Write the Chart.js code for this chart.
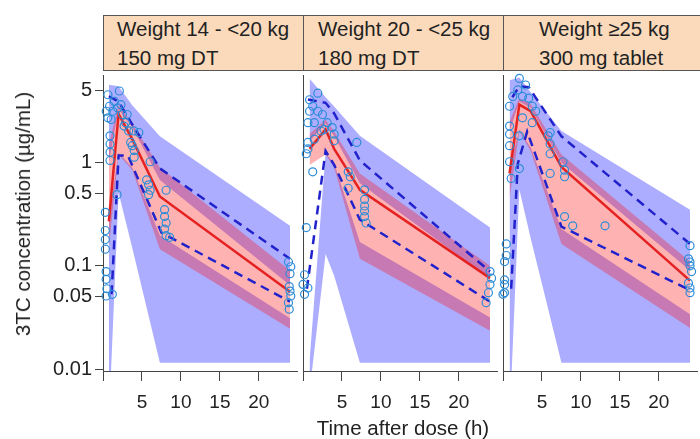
<!DOCTYPE html>
<html><head><meta charset="utf-8">
<script src="https://cdn.jsdelivr.net/npm/chart.js@4.4.1/dist/chart.umd.min.js"></script>
<style>
html,body{margin:0;padding:0;background:#fff;}
body{width:700px;height:439px;overflow:hidden;position:relative;font-family:'Liberation Sans',Arial,Helvetica,sans-serif;color:#222;}
canvas{position:absolute;top:70px;}
.strip{position:absolute;top:15px;height:56px;width:201px;box-sizing:border-box;border:1px solid #555;background:#FBDABB;}
.strip span{position:absolute;font-size:20.5px;line-height:20px;white-space:nowrap;}
.ttl{position:absolute;font-size:20.5px;line-height:20px;white-space:nowrap;}
</style></head>
<body>
<div class="strip" style="left:103px"><span style="left:13px;top:3px">Weight 14 - &lt;20 kg</span><span style="left:13px;top:32px">150 mg DT</span></div>
<div class="strip" style="left:303px"><span style="left:14px;top:3px">Weight 20 - &lt;25 kg</span><span style="left:14px;top:32px">180 mg DT</span></div>
<div class="strip" style="left:503px"><span style="left:35px;top:3px">Weight ≥25 kg</span><span style="left:35px;top:32px">300 mg tablet</span></div>
<canvas id="c1" width="303" height="369" style="left:0px"></canvas>
<canvas id="c2" width="210" height="369" style="left:293px"></canvas>
<canvas id="c3" width="210" height="369" style="left:493px"></canvas>
<div class="ttl" style="left:403px;top:418px;transform:translateX(-50%)">Time after dose (h)</div>
<div class="ttl" style="left:23px;top:214px;transform:translate(-50%,-50%) rotate(-90deg)">3TC concentration (µg/mL)</div>
<script>
// ---- axis ticks ----
const xTickVals = [0, 5, 10, 15, 20];
const xTickLabels = ['', '5', '10', '15', '20'];
const yTickVals = [0.01, 0.05, 0.1, 0.5, 1, 5];
const yTickLabels = ['0.01', '0.05', '0.1', '0.5', '1', '5'];

// ---- panel 1: Weight 14 - <20 kg ----
const T1 = [0.75, 2, 3.75, 7.3, 24];
const median1 = [0.27, 2.97, 1.69, 0.47, 0.056];
const redHi1 = [1.5, 3.6, 2.4, 0.9, 0.09];
const redLo1 = [0.15, 1.2, 0.85, 0.145, 0.0245];
const upHi1 = [5.7, 5.5, 3.6, 1.8, 0.245];
const upLo1 = [1.0, 3.3, 2.2, 0.68, 0.065];
const lowHi1 = [0.3, 1.25, 0.9, 0.197, 0.031];
const lowLo1 = [0.003, 0.51, 0.15, 0.0115, 0.0115];
const obsHiT1 = [0.75, 2, 3.75, 7.3, 24];
const obsHi1 = [4.4, 3.9, 2.35, 0.88, 0.117];
const obsLoT1 = [1.1, 2.0, 3.2, 7.5, 24];
const obsLo1 = [0.053, 1.17, 1.17, 0.21, 0.045];
const ptT1 = [0.3,0.3,0.3,0.3,0.4,0.4,0.5,0.4,1.2,1.8, 0.9,0.9,0.9,0.9, 0.63,2.1,1.46,0.84,1.25,1.9,2.5,3.1,2.7,3.3,3.96,3.75,4.0,4.0,4.6,3.55,0.42,0.63,1.05,2.3,2.9, 6.05,5.6,5.85,6.05,5.85,8.1,7.9,7.9,8.1,7.9,8.1,8.55, 23.8,24.1,24.0,23.9,24.0,24.1,23.8,23.9];
const ptV1 = [0.33,0.22,0.18,0.145,0.088,0.074,0.06,0.051,0.053,0.49, 1.82,1.52,1.26,1.05, 4.55,4.95,3.92,3.52,3.15,3.39,2.93,2.93,2.26,2.03,2.03,1.46,1.31,1.13,1.96,1.57,3.15,2.72,2.62,3.65,2.44, 1.02,0.68,0.61,0.54,0.49,0.54,0.35,0.30,0.26,0.227,0.196,0.189, 0.109,0.098,0.084,0.063,0.057,0.051,0.044,0.038];

// ---- panel 2: Weight 20 - <25 kg ----
const T2 = [0.84, 2.9, 4.0, 7.3, 24];
const median2 = [1.36, 2.1, 1.36, 0.545, 0.076];
const redHi2 = [1.9, 2.6, 2.0, 0.786, 0.1];
const redLo2 = [0.95, 1.2, 0.9, 0.117, 0.0235];
const upHi2 = [6.5, 4.3, 3.5, 1.82, 0.235];
const upLo2 = [1.6, 2.4, 1.8, 0.63, 0.075];
const lowHi2 = [0.012, 1.25, 0.98, 0.17, 0.0316];
const lowLo2 = [0.006, 0.13, 0.08, 0.0115, 0.0115];
const obsHiT2 = [0.63, 2.9, 4.0, 7.3, 24];
const obsHi2 = [4.1, 3.8, 3.0, 1.05, 0.088];
const obsLoT2 = [0.5, 2.9, 4.0, 7.3, 24];
const obsLo2 = [0.06, 1.3, 0.95, 0.28, 0.045];
const ptT2 = [1.9,0.84,1.25,0.84,1.9,2.5,0.63,1.46,3.1,2.7,3.75,4.0,4.0,0.63,0.63,0.42,1.46,2.3,1.25, 6.9,5.8,6.05,5.8,7.9,7.9,7.9,7.9,7.9,8.1, 0.42,0.2,0.0,0.63,0.2, 24.0,24.2,24.0,23.8,23.5];
const ptV2 = [4.71,4.07,3.52,3.15,3.15,2.93,2.44,2.44,2.44,2.1,2.19,1.89,1.63,1.57,1.36,1.22,1.69,2.03,0.815, 1.57,0.815,0.73,0.565,0.545,0.44,0.38,0.34,0.30,0.26, 0.235,0.082,0.066,0.061,0.053, 0.088,0.076,0.066,0.055,0.044];

// ---- panel 3: Weight >=25 kg ----
const T3 = [0.84, 2.1, 3.55, 7.5, 24];
const median3 = [0.786, 3.65, 3.15, 0.91, 0.072];
const redHi3 = [2.5, 4.2, 3.7, 1.2, 0.11];
const redLo3 = [0.45, 2.0, 1.3, 0.163, 0.025];
const upHi3 = [6.3, 6.7, 4.8, 2.03, 0.35];
const upLo3 = [2.0, 3.9, 3.4, 1.0, 0.09];
const lowHi3 = [0.9, 2.1, 1.4, 0.227, 0.034];
const lowLo3 = [0.003, 0.55, 0.185, 0.0115, 0.0115];
const obsHiT3 = [1.2, 2.1, 3.3, 7.5, 24];
const obsHi3 = [4.3, 5.5, 5.4, 1.8, 0.163];
const obsLoT3 = [1.05, 1.9, 3.1, 7.5, 24];
const obsLo3 = [0.06, 0.98, 2.0, 0.24, 0.058];
const ptT3 = [2.1,2.9,1.9,2.5,3.3,1.25,0.84,3.75,4.2,3.75,0.84,0.84,2.5,6.05,5.8,6.05,2.1,0.84,0.84,2.1,1.05,6.05,6.05,7.7,7.9,7.9,7.9,8.95,13.1, 0.42,0.42,0.2,0.2,0.2,0.2,0.0, 24.0,24.0,23.8,24.0,24.2,23.8,24.0,24.0];
const ptV3 = [6.55,5.66,5.07,4.38,4.22,4.38,3.52,3.52,3.15,2.44,2.26,1.89,2.72,1.96,1.82,1.52,1.82,1.46,1.02,0.877,0.704,1.22,0.786,1.02,0.845,0.73,0.30,0.244,0.244, 0.163,0.126,0.11,0.073,0.066,0.055,0.053, 0.157,0.109,0.117,0.1,0.088,0.068,0.061,0.055];

Chart.defaults.font.family = "'Liberation Sans', Arial, sans-serif";
Chart.defaults.color = '#222';

const Y_MIN = 0.00957, Y_MAX = 7.04;
const BLUE_BAND = 'rgba(0,0,255,0.32)';
const RED_BAND = 'rgba(255,0,0,0.30)';

function xy(xs, ys) { return xs.map((x, i) => ({x: x, y: ys[i]})); }
function bandSets(T, hi, lo, color) {
  return [
    {data: xy(T, hi), fill: '+1', backgroundColor: color, borderWidth: 0, pointRadius: 0, tension: 0},
    {data: xy(T, lo), fill: false, borderWidth: 0, pointRadius: 0, tension: 0}
  ];
}

function makePanel(id, p, showY, yWidth) {
  const datasets = [
    {data: xy(p.ptT, p.ptV), showLine: false, pointRadius: 4, pointBorderWidth: 1.2,
     pointBackgroundColor: 'rgba(0,0,0,0)', pointBorderColor: 'rgb(45,140,215)', clip: 6},
    {data: xy(p.T, p.med), borderColor: '#E52222', borderWidth: 2.5, pointRadius: 0, fill: false, tension: 0},
    {data: xy(p.obsHiT, p.obsHi), borderColor: '#2222CC', borderWidth: 2.5, borderDash: [9, 6], pointRadius: 0, fill: false, tension: 0},
    {data: xy(p.obsLoT, p.obsLo), borderColor: '#2222CC', borderWidth: 2.5, borderDash: [9, 6], pointRadius: 0, fill: false, tension: 0},
    ...bandSets(p.T, p.redHi, p.redLo, RED_BAND),
    ...bandSets(p.T, p.upHi, p.upLo, BLUE_BAND),
    ...bandSets(p.T, p.lowHi, p.lowLo, BLUE_BAND)
  ];
  new Chart(document.getElementById(id), {
    type: 'line',
    data: {datasets: datasets},
    options: {
      responsive: false, animation: false, devicePixelRatio: 1,
      layout: {padding: 0},
      plugins: {legend: {display: false}, tooltip: {enabled: false}},
      scales: {
        x: {
          type: 'linear', min: 0, max: 25,
          afterBuildTicks: s => { s.ticks = xTickVals.map(v => ({value: v})); },
          afterFit: s => { s.height = 68; s.paddingLeft = 0; s.paddingRight = 0; },
          ticks: {font: {size: 19}, color: '#222', padding: 10, maxRotation: 0, autoSkip: false,
                  callback: v => xTickLabels[xTickVals.indexOf(v)]},
          grid: {drawOnChartArea: false, drawTicks: true, tickLength: 10, color: '#444', lineWidth: 1},
          border: {display: true, color: '#444', width: 1}
        },
        y: {
          type: 'logarithmic', min: Y_MIN, max: Y_MAX,
          afterBuildTicks: s => { s.ticks = yTickVals.map(v => ({value: v})); },
          afterFit: s => { s.width = yWidth; s.paddingTop = 0; s.paddingBottom = 0; },
          ticks: {display: showY, font: {size: 20}, color: '#222', padding: 3, autoSkip: false,
                  callback: v => { const i = yTickVals.indexOf(v); return i >= 0 ? yTickLabels[i] : ''; }},
          grid: {drawOnChartArea: false, drawTicks: showY, tickLength: 8, color: '#444', lineWidth: 1},
          border: {display: true, color: '#444', width: 1}
        }
      }
    }
  });
}

makePanel('c1', {T: T1, med: median1, redHi: redHi1, redLo: redLo1, upHi: upHi1, upLo: upLo1, lowHi: lowHi1, lowLo: lowLo1,
  obsHiT: obsHiT1, obsHi: obsHi1, obsLoT: obsLoT1, obsLo: obsLo1, ptT: ptT1, ptV: ptV1}, true, 103);
makePanel('c2', {T: T2, med: median2, redHi: redHi2, redLo: redLo2, upHi: upHi2, upLo: upLo2, lowHi: lowHi2, lowLo: lowLo2,
  obsHiT: obsHiT2, obsHi: obsHi2, obsLoT: obsLoT2, obsLo: obsLo2, ptT: ptT2, ptV: ptV2}, false, 10);
makePanel('c3', {T: T3, med: median3, redHi: redHi3, redLo: redLo3, upHi: upHi3, upLo: upLo3, lowHi: lowHi3, lowLo: lowLo3,
  obsHiT: obsHiT3, obsHi: obsHi3, obsLoT: obsLoT3, obsLo: obsLo3, ptT: ptT3, ptV: ptV3}, false, 10);
</script>
</body></html>
